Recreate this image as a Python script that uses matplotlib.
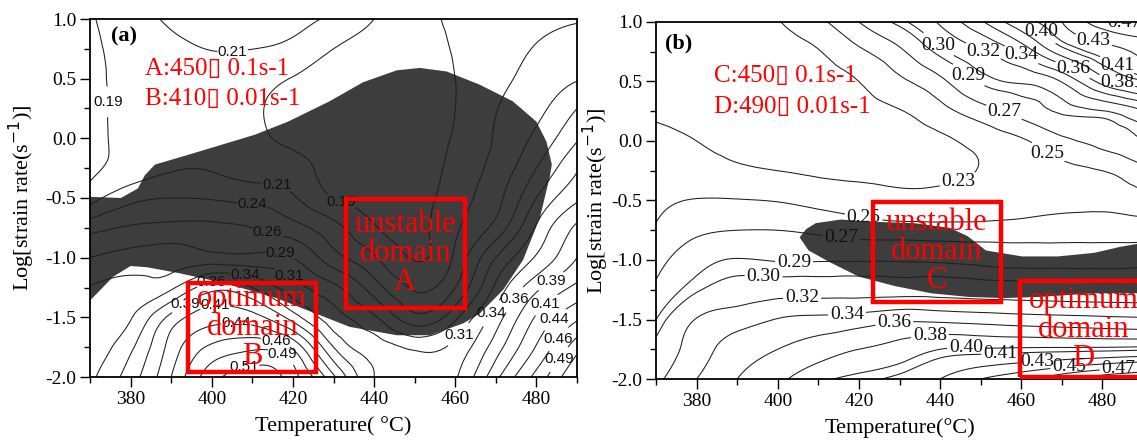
import numpy as np
import matplotlib
matplotlib.use("Agg")
import matplotlib.pyplot as plt
import matplotlib.tri as mtri
from matplotlib.ticker import MultipleLocator, FormatStrFormatter
from matplotlib.patches import Rectangle

plt.rcParams["axes.unicode_minus"] = False
plt.rcParams["font.family"] = ["Liberation Serif", "DejaVu Sans"]

# ---------------- data ----------------
temperatures = [370, 380, 390, 400, 410, 420, 430, 440, 450, 460, 470, 480, 490]
log_strain_rates = [-2.0, -1.75, -1.5, -1.25, -1.0, -0.75, -0.5, -0.25, 0.0, 0.25, 0.5, 0.75, 1.0]

# power dissipation efficiency, panel (a); one row per log strain rate (bottom -> top)
eta_a = [
    [0.335, 0.378, 0.440, 0.505, 0.530, 0.500, 0.420, 0.340, 0.325, 0.337, 0.408, 0.473, 0.543],
    [0.325, 0.360, 0.425, 0.470, 0.484, 0.460, 0.365, 0.327, 0.310, 0.322, 0.378, 0.442, 0.505],
    [0.320, 0.338, 0.398, 0.430, 0.425, 0.378, 0.325, 0.294, 0.248, 0.284, 0.352, 0.418, 0.460],
    [0.316, 0.322, 0.335, 0.380, 0.365, 0.326, 0.296, 0.252, 0.212, 0.240, 0.320, 0.383, 0.421],
    [0.290, 0.300, 0.303, 0.300, 0.297, 0.290, 0.250, 0.218, 0.188, 0.220, 0.290, 0.343, 0.390],
    [0.256, 0.268, 0.272, 0.270, 0.265, 0.250, 0.223, 0.193, 0.182, 0.211, 0.249, 0.318, 0.370],
    [0.205, 0.232, 0.240, 0.238, 0.232, 0.218, 0.190, 0.178, 0.178, 0.204, 0.232, 0.290, 0.335],
    [0.186, 0.200, 0.212, 0.213, 0.205, 0.200, 0.180, 0.175, 0.176, 0.198, 0.223, 0.265, 0.312],
    [0.184, 0.195, 0.200, 0.202, 0.195, 0.185, 0.177, 0.173, 0.175, 0.193, 0.217, 0.246, 0.287],
    [0.184, 0.195, 0.198, 0.200, 0.193, 0.183, 0.177, 0.173, 0.175, 0.190, 0.214, 0.233, 0.265],
    [0.185, 0.195, 0.199, 0.204, 0.199, 0.189, 0.180, 0.175, 0.176, 0.190, 0.207, 0.225, 0.238],
    [0.186, 0.198, 0.208, 0.2158, 0.2152, 0.208, 0.190, 0.180, 0.178, 0.192, 0.202, 0.217, 0.225],
    [0.188, 0.203, 0.219, 0.226, 0.227, 0.222, 0.210, 0.190, 0.182, 0.195, 0.198, 0.205, 0.213],
]

# power dissipation efficiency, panel (b)
eta_b = [
    [0.315, 0.340, 0.360, 0.375, 0.395, 0.405, 0.415, 0.430, 0.450, 0.465, 0.485, 0.505, 0.520],
    [0.305, 0.330, 0.350, 0.360, 0.370, 0.380, 0.388, 0.400, 0.402, 0.403, 0.404, 0.405, 0.407],
    [0.290, 0.321, 0.331, 0.341, 0.345, 0.349, 0.356, 0.355, 0.352, 0.349, 0.347, 0.345, 0.343],
    [0.274, 0.298, 0.308, 0.311, 0.311, 0.311, 0.311, 0.311, 0.309, 0.308, 0.307, 0.306, 0.306],
    [0.263, 0.283, 0.291, 0.289, 0.289, 0.289, 0.289, 0.288, 0.286, 0.284, 0.284, 0.284, 0.285],
    [0.252, 0.266, 0.270, 0.270, 0.266, 0.261, 0.259, 0.258, 0.258, 0.259, 0.260, 0.260, 0.259],
    [0.246, 0.251, 0.251, 0.249, 0.244, 0.240, 0.236, 0.236, 0.238, 0.242, 0.245, 0.246, 0.247],
    [0.240, 0.237, 0.233, 0.230, 0.227, 0.225, 0.224, 0.225, 0.231, 0.240, 0.245, 0.250, 0.264],
    [0.234, 0.230, 0.226, 0.223, 0.221, 0.221, 0.222, 0.226, 0.236, 0.247, 0.265, 0.276, 0.290],
    [0.228, 0.225, 0.222, 0.221, 0.221, 0.224, 0.229, 0.243, 0.261, 0.278, 0.292, 0.299, 0.318],
    [0.224, 0.222, 0.221, 0.221, 0.223, 0.230, 0.246, 0.265, 0.292, 0.302, 0.321, 0.368, 0.398],
    [0.220, 0.220, 0.220, 0.223, 0.229, 0.246, 0.266, 0.295, 0.318, 0.345, 0.390, 0.418, 0.435],
    [0.219, 0.219, 0.220, 0.229, 0.245, 0.270, 0.295, 0.323, 0.357, 0.396, 0.430, 0.460, 0.478],
]

levels_a = [0.19, 0.215, 0.24, 0.265, 0.29, 0.315, 0.34, 0.365, 0.39, 0.415, 0.44, 0.465, 0.49, 0.515]
level_labels_a = ["0.19", "0.21", "0.24", "0.26", "0.29", "0.31", "0.34", "0.36", "0.39",
                  "0.41", "0.44", "0.46", "0.49", "0.51"]
levels_b = [0.23, 0.25, 0.27, 0.29, 0.30, 0.32, 0.34, 0.36, 0.38, 0.40, 0.41, 0.43, 0.45, 0.47, 0.49]
level_labels_b = ["0.23", "0.25", "0.27", "0.29", "0.30", "0.32", "0.34", "0.36", "0.38",
                  "0.40", "0.41", "0.43", "0.45", "0.47", "0.49"]

# boundary of the instability (unstable) domain
unstable_a_T = [370, 377.6, 381.8, 383.5, 386, 394, 410.6, 418.8, 429, 437.3, 445.6, 451.3,
                457.9, 466, 474.2, 480, 482.5, 483.8, 483.3, 480.9, 476.7, 471.8, 466, 462,
                453.8, 445.6, 434, 425, 416, 408, 400, 392, 384, 380, 375.7, 370]
unstable_a_logsr = [-0.49, -0.50, -0.42, -0.31, -0.22, -0.14, 0.03, 0.14, 0.31, 0.47, 0.57, 0.59,
                    0.56, 0.45, 0.31, 0.14, -0.03, -0.22, -0.32, -0.66, -1.02, -1.27, -1.47, -1.55,
                    -1.65, -1.65, -1.58, -1.46, -1.34, -1.26, -1.19, -1.13, -1.08, -1.07, -1.16, -1.36]
unstable_b_T = [405.4, 407, 409.4, 415.6, 424.5, 433.5, 442.4, 446.8, 451.3, 460.2, 469, 478,
                484.3, 491, 491, 478, 464.6, 455.7, 446.9, 437.9, 429, 420, 412.9, 407.6]
unstable_b_logsr = [-0.81, -0.74, -0.69, -0.66, -0.68, -0.69, -0.73, -0.80, -0.92, -0.97, -0.97,
                    -0.94, -0.89, -0.85, -1.28, -1.28, -1.31, -1.32, -1.31, -1.28, -1.22, -1.14,
                    -1.02, -0.92]

# domain boxes: (T_min, T_max, logsr_min, logsr_max, text)
domains_a = [(433.0, 462.3, -1.425, -0.508, "unstable\ndomain\nA"),
             (394.1, 425.8, -1.955, -1.215, "optimum\ndomain\nB")]
domains_b = [(423.5, 454.9, -1.35, -0.51, "unstable\ndomain\nC"),
             (459.7, 491.0, -1.98, -1.18, "optimum\ndomain\nD")]

notes_a = ["A:450\u25af 0.1s-1", "B:410\u25af 0.01s-1"]
notes_b = ["C:450\u25af 0.1s-1", "D:490\u25af 0.01s-1"]

# where the contour labels sit
clabel_pos_a = [(405, 0.80), (378, 0.30), (416, -0.39), (410, -0.56), (414, -0.76), (417, -0.96),
                (419, -1.15), (408, -1.17), (400, -1.21), (393, -1.37), (401, -1.45), (406, -1.56),
                (416, -1.67), (417, -1.84), (408, -1.92), (432, -0.52), (461, -1.65), (469, -1.47),
                (474, -1.34), (483.4, -1.19), (482, -1.38), (484.6, -1.52), (485, -1.67), (485, -1.84)]
clabel_pos_b = [(440, 0.83), (450.6, 0.75), (460, 0.72), (464.6, 0.91), (472.7, 0.60), (477.7, 0.83),
                (484, 0.66), (483.6, 0.50), (485, 0.95), (446, 0.51), (455.5, 0.22), (467, -0.075),
                (445, -0.40), (421, -0.68), (415.6, -0.85), (404, -0.97), (396.5, -1.14), (406, -1.33),
                (417, -1.43), (428.6, -1.49), (437.5, -1.64), (446.4, -1.74), (454.8, -1.77),
                (463.8, -1.82), (471.8, -1.90), (484, -1.90)]

BLOB = "#3d3d3d"
LINE = "#1e1e1e"
RED = "#ff0000"


def smooth_field(eta):
    T = np.asarray(temperatures, float)
    L = np.asarray(log_strain_rates, float)
    nT, nL = len(T), len(L)
    gi, gj = np.meshgrid(np.arange(nT, dtype=float), np.arange(nL, dtype=float))
    tris = []
    for j in range(nL - 1):
        for i in range(nT - 1):
            p = j * nT + i
            tris.append([p, p + 1, p + nT + 1])
            tris.append([p, p + nT + 1, p + nT])
    tri = mtri.Triangulation(gi.ravel(), gj.ravel(), np.array(tris))
    refiner = mtri.UniformTriRefiner(tri)
    tri_f, z_f = refiner.refine_field(np.asarray(eta, float).ravel(), subdiv=3)
    x = np.interp(tri_f.x, np.arange(nT), T)
    y = np.interp(tri_f.y, np.arange(nL), L)
    return mtri.Triangulation(x, y, tri_f.triangles), z_f


def style_axes(ax, xlabel, ylab_x):
    ax.set_xlim(370, 490)
    ax.set_ylim(-2.0, 1.0)
    ax.xaxis.set_major_locator(MultipleLocator(20))
    ax.xaxis.set_minor_locator(MultipleLocator(10))
    ax.yaxis.set_major_locator(MultipleLocator(0.5))
    ax.yaxis.set_minor_locator(MultipleLocator(0.25))
    ax.yaxis.set_major_formatter(FormatStrFormatter("%.1f"))
    ax.tick_params(which="major", direction="out", length=7, width=1.0, labelsize=14,
                   top=False, right=False, pad=3)
    ax.tick_params(which="minor", direction="out", length=4, width=1.0, top=False, right=False)
    for s in ax.spines.values():
        s.set_linewidth(1.3)
    ax.set_xlabel(xlabel, fontsize=16)
    ax.set_ylabel("Log[strain rate(s$^{-1}$)]", fontsize=16)
    ax.xaxis.set_label_coords(0.5, -39 / 358)
    ax.yaxis.set_label_coords(ylab_x, 0.5)


def draw_panel(ax, eta, levels, labels, uT, uL, domains, notes, note_xy, tag, tag_xy,
               clpos, clfont, clsize):
    ax.fill(uT, uL, color=BLOB, lw=0, zorder=1)
    tri, z = smooth_field(eta)
    cs = ax.tricontour(tri, z, levels=levels, colors=LINE, linewidths=0.75, zorder=2)
    fmt = dict(zip(cs.levels, labels))
    texts = ax.clabel(cs, manual=clpos, inline=True, inline_spacing=2, fmt=fmt, fontsize=clsize)
    for t in texts:
        t.set_rotation(0)
        t.set_fontfamily(clfont)
        t.set_color("#111111")
    for (t0, t1, l0, l1, txt) in domains:
        ax.add_patch(Rectangle((t0, l0), t1 - t0, l1 - l0, fill=False, ec=RED, lw=3.2, zorder=5))
        ax.text((t0 + t1) / 2, (l0 + l1) / 2, txt, color=RED, fontsize=22, ha="center",
                va="center", multialignment="center", linespacing=1.0, zorder=6)
    ax.text(note_xy[0], note_xy[1], notes[0], transform=ax.transAxes, color=RED, fontsize=18,
            ha="left", va="baseline", zorder=6)
    ax.text(note_xy[0], note_xy[2], notes[1], transform=ax.transAxes, color=RED, fontsize=18,
            ha="left", va="baseline", zorder=6)
    ax.text(tag_xy[0], tag_xy[1], tag, transform=ax.transAxes, fontsize=16, fontweight="bold",
            ha="left", va="center", zorder=6)


fig = plt.figure(figsize=(11.37, 4.42), dpi=100)
ax1 = fig.add_axes([90 / 1137, 1 - 377 / 442, 487 / 1137, 358 / 442])
ax2 = fig.add_axes([656 / 1137, 1 - 379 / 442, 487 / 1137, 357 / 442])

style_axes(ax1, "Temperature( \u00b0C)", -53 / 487)
style_axes(ax2, "Temperature(\u00b0C)", -45 / 487)

draw_panel(ax1, eta_a, levels_a, level_labels_a, unstable_a_T, unstable_a_logsr, domains_a,
           notes_a, (0.112, 0.844, 0.760), "(a)", (0.043, 0.95), clabel_pos_a,
           "Liberation Sans", 11)
draw_panel(ax2, eta_b, levels_b, level_labels_b, unstable_b_T, unstable_b_logsr, domains_b,
           notes_b, (0.12, 0.833, 0.745), "(b)", (0.018, 0.94), clabel_pos_b,
           "Liberation Serif", 14)

fig.savefig("out.png", dpi=100)
